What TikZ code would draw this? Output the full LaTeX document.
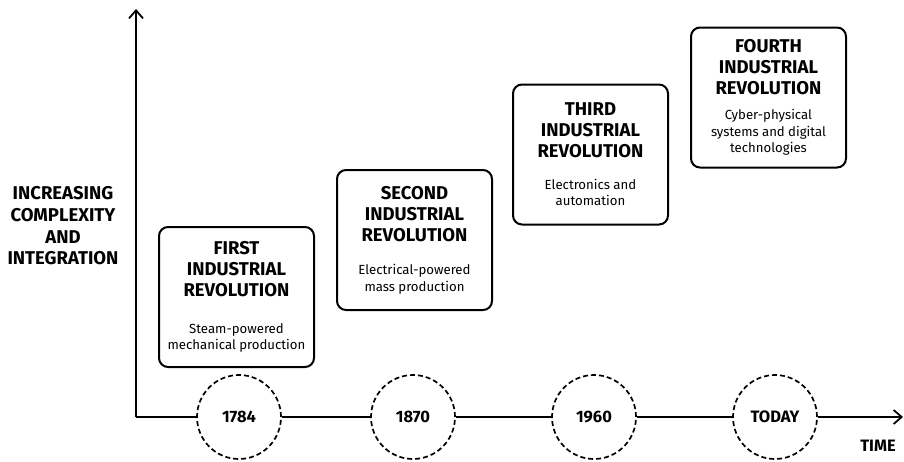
\documentclass[tikz,border=0pt]{standalone}
\usepackage{fontspec}
\setmainfont{Fira Sans}
\usetikzlibrary{arrows.meta}
\newcommand\ttltext[1]{{\fontsize{18.5}{21}\selectfont\bfseries #1\par}}
\newcommand\subtext[1]{{\fontsize{13.2}{16.5}\selectfont #1\par}}
\begin{document}
\begin{tikzpicture}[x=1pt,y=-1pt,
  axis/.style={line width=2pt, black},
  tip/.style={-{Straight Barb[length=8pt,width=14pt,line width=1.8pt]}},
  revbox/.style={draw, line width=2pt, rounded corners=9pt, minimum width=155pt, minimum height=140pt, text width=152pt, align=center, inner sep=0pt},
  yearnode/.style={draw, dashed, dash pattern=on 5pt off 3pt, line width=1.7pt, circle, minimum size=84pt, inner sep=0pt, font=\fontsize{16.5}{19}\selectfont\bfseries, fill=white},
  axislabel/.style={align=center, font=\fontsize{18.5}{21.7}\selectfont\bfseries}
]
\useasboundingbox (0,0) rectangle (904,461);
\coordinate (origin) at (136,417);
\coordinate (ytop) at (136,9);
\coordinate (xend) at (903,417);

\node[yearnode] (c1) at (239,417) {1784};
\node[yearnode] (c2) at (413,417) {1870};
\node[yearnode] (c3) at (594,417) {1960};
\node[yearnode] (c4) at (775,417) {TODAY};

\draw[axis,tip] (origin) -- (ytop);
\draw[axis] (origin) -- (c1);
\draw[axis] (c1) -- (c2);
\draw[axis] (c2) -- (c3);
\draw[axis] (c3) -- (c4);
\draw[axis,tip] (c4) -- (xend);

\node[axislabel] (ylab) at (63,226) {INCREASING\\COMPLEXITY\\AND\\INTEGRATION};
\node[axislabel, font=\fontsize{16.5}{19}\selectfont\bfseries] (xlab) at (878,446) {TIME};

\node[revbox] (b1) at (236.5,297) {\ttltext{FIRST\\INDUSTRIAL\\REVOLUTION}\vspace{20pt}\subtext{Steam-powered\\mechanical production}\vspace{9pt}};
\node[revbox] (b2) at (414.5,240) {\ttltext{SECOND\\INDUSTRIAL\\REVOLUTION}\vspace{17pt}\subtext{Electrical-powered\\mass production}};
\node[revbox] (b3) at (590.5,154.5) {\ttltext{THIRD\\INDUSTRIAL\\REVOLUTION}\vspace{15pt}\subtext{Electronics and\\automation}};
\node[revbox] (b4) at (768.5,97.5) {\ttltext{FOURTH\\INDUSTRIAL\\REVOLUTION}\vspace{9pt}\subtext{Cyber-physical\\systems and digital\\technologies}};
\end{tikzpicture}
\end{document}
